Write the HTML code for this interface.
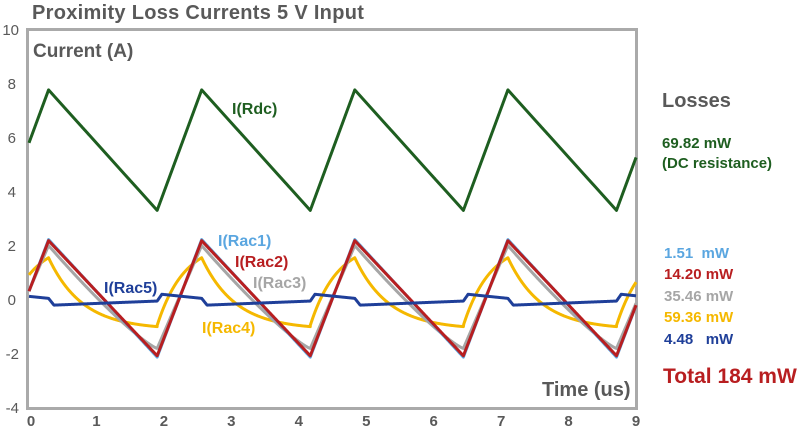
<!DOCTYPE html>
<html><head><meta charset="utf-8"><style>
html,body{margin:0;padding:0;background:#fff;}
svg{display:block;font-family:"Liberation Sans",sans-serif;}
</style></head><body>
<svg id="s" width="800" height="430" xmlns="http://www.w3.org/2000/svg">
<rect width="800" height="430" fill="#fff"/>
<text x="32" y="19" font-size="20" font-weight="bold" fill="#595959" letter-spacing="0.3">Proximity Loss Currents 5 V Input</text>
<rect x="27.5" y="29.5" width="609" height="379" fill="none" stroke="#aaaaaa" stroke-width="3"/>
<text x="33" y="57" font-size="19" font-weight="bold" fill="#595959">Current (A)</text>
<g font-size="15" fill="#595959" text-anchor="end">
<text x="19" y="35">10</text><text x="16" y="89">8</text><text x="16" y="143">6</text><text x="16" y="197">4</text>
<text x="16" y="251">2</text><text x="16" y="305">0</text><text x="19" y="359">-2</text><text x="19" y="413">-4</text>
</g>
<g font-size="15" font-weight="bold" fill="#595959" text-anchor="middle" id="xt"></g>
<g id="series" fill="none" stroke-width="3" stroke-linejoin="round"></g>
<g font-weight="bold" font-size="16">
<text x="232" y="114" fill="#1e5e20">I(Rdc)</text>
<text x="218" y="246" fill="#5aa6e0">I(Rac1)</text>
<text x="235" y="267" fill="#b81e20">I(Rac2)</text>
<text x="253" y="288" fill="#a6a6a6">I(Rac3)</text>
<text x="104" y="293" fill="#1f3f99">I(Rac5)</text>
<text x="202" y="333" fill="#f5b800">I(Rac4)</text>
</g>
<text x="542" y="396" font-size="20" font-weight="bold" fill="#595959">Time (us)</text>
<text x="662" y="107" font-size="20" font-weight="bold" fill="#595959">Losses</text>
<g font-size="15" font-weight="bold">
<text x="662" y="148" fill="#1e5e20">69.82 mW</text>
<text x="662" y="168" fill="#1e5e20">(DC resistance)</text>
<text x="664" y="258" fill="#5aa6e0">1.51&#160; mW</text>
<text x="664" y="279" fill="#b81e20">14.20 mW</text>
<text x="664" y="301" fill="#a6a6a6">35.46 mW</text>
<text x="664" y="322" fill="#f5b800">59.36 mW</text>
<text x="664" y="344" fill="#1f3f99">4.48&#160;&#160; mW</text>
</g>
<text x="663" y="383" font-size="21" font-weight="bold" fill="#b81e20">Total 184 mW</text>
</svg>
<script>
var NS="http://www.w3.org/2000/svg";
function X(t){return 29+t*67.45;}
function Y(v){return 299.7-v*27.07;}
var xt=document.getElementById('xt');
for(var i=0;i<=9;i++){var e=document.createElementNS(NS,'text');e.setAttribute('x',X(i)+(i==0?2:0));e.setAttribute('y',426);e.textContent=i;xt.appendChild(e);}
var P=2.27,tp=0.29,tt=1.9;
function phase(t){var u=((t-tp)%P+P)%P;return u;}
var fall=tt-tp, rise=P-fall;
function tri(hi,lo,u){ if(u<fall) return hi+(lo-hi)*u/fall; return lo+(hi-lo)*(u-fall)/rise;}
function rdc(t){return tri(7.75,3.3,phase(t));}
function rac1(t){return tri(2.22,-2.12,phase(t));}
function rac2(t){return tri(2.18,-2.07,phase(t));}
function rac3(t){var u=phase(t);if(u<fall){var k=u/fall;return 2.0+(-1.8-2.0)*(1-Math.pow(1-k,1.2));}return -1.8+3.8*(u-fall)/rise;}
function rac4(t){var u=phase(t);if(u<fall){return -1.1+2.65*Math.exp(-u/0.5);}var d=u-fall;return -0.95+2.5*(1-Math.exp(-d/0.4))/(1-Math.exp(-rise/0.4));}
function rac5(t){var u=phase(t);
 if(u<0.08) return 0.05-0.25*(u/0.08);
 if(u<fall) return -0.2+0.15*(u-0.08)/(fall-0.08);
 if(u<fall+0.07) return -0.05+0.25*(u-fall)/0.07;
 return 0.2-0.15*(u-fall-0.07)/(rise-0.07);}
function path(f,col,w){var d="";var pts=[];for(var t=0;t<=9.001;t+=0.005)pts.push(t);
 [tp,tt].forEach(function(b){for(var k=-1;k<5;k++){var v=b+k*P;if(v>0&&v<9)pts.push(v);}});
 pts.sort(function(a,b){return a-b});
 pts.forEach(function(t,i){d+=(i?"L":"M")+X(t).toFixed(2)+" "+Y(f(t)).toFixed(2);});
 var p=document.createElementNS(NS,'path');p.setAttribute('d',d);p.setAttribute('stroke',col);p.setAttribute('stroke-width',w||3);
 document.getElementById('series').appendChild(p);}
path(rdc,"#1e5e20");
path(rac4,"#f5b800");
path(rac3,"#a6a6a6");
path(rac1,"#5aa6e0");
path(rac2,"#b81e20");
path(rac5,"#1f3f99");
</script>
</body></html>
